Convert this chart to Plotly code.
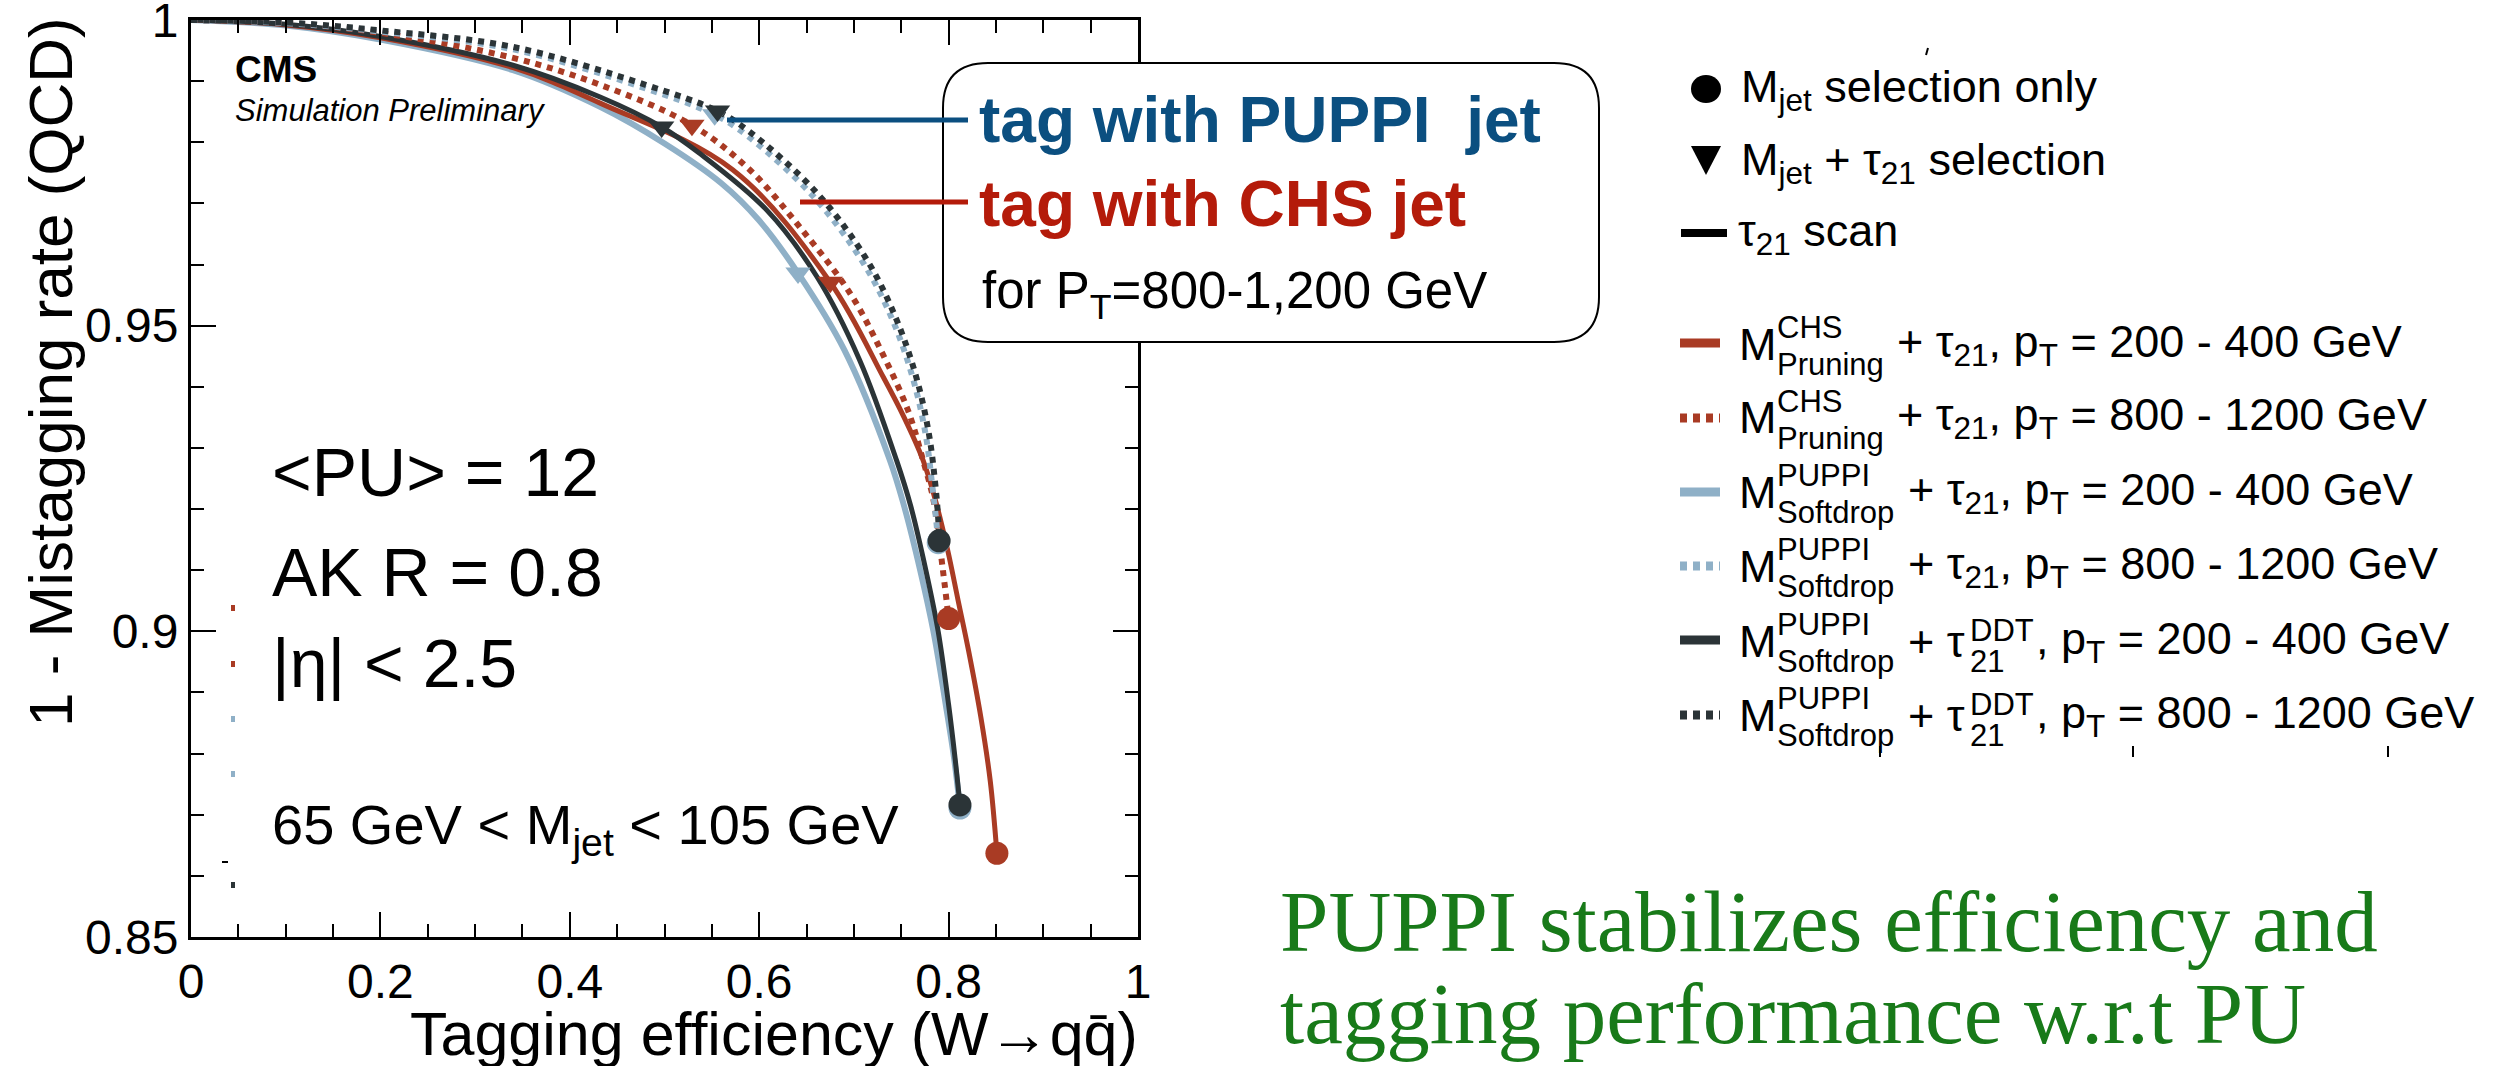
import plotly.graph_objects as go

# ---------------- data ----------------
chs_lo_x = [0.0, 0.1, 0.2, 0.34, 0.432, 0.572, 0.675, 0.731, 0.753, 0.773, 0.786, 0.799, 0.810, 0.821, 0.834, 0.844, 0.851]
chs_lo_y = [1.0, 0.9992, 0.9971, 0.9922, 0.9864, 0.9755, 0.9571, 0.9416, 0.935, 0.928, 0.9215, 0.9133, 0.9051, 0.8969, 0.886, 0.8755, 0.8637]

chs_hi_x = [0.0, 0.1, 0.2, 0.34, 0.432, 0.529, 0.590, 0.643, 0.696, 0.730, 0.757, 0.773, 0.784, 0.794, 0.800]
chs_hi_y = [1.0, 0.9995, 0.9979, 0.9938, 0.9894, 0.9828, 0.9755, 0.9661, 0.9553, 0.9455, 0.9362, 0.928, 0.9215, 0.910, 0.9021]

pup_lo_x = [0.0, 0.1, 0.2, 0.34, 0.432, 0.50, 0.56, 0.60, 0.641, 0.69, 0.738, 0.753, 0.770, 0.784, 0.797, 0.806, 0.812]
pup_lo_y = [1.0, 0.9991, 0.9968, 0.9918, 0.9858, 0.9798, 0.9733, 0.9672, 0.9586, 0.9460, 0.928, 0.9205, 0.910, 0.900, 0.888, 0.879, 0.8711]

pup_hi_x = [0.0, 0.1, 0.2, 0.34, 0.48, 0.553, 0.588, 0.658, 0.711, 0.742, 0.763, 0.776, 0.783, 0.787, 0.789]
pup_hi_y = [1.0, 0.9995, 0.9981, 0.9952, 0.9888, 0.9845, 0.9810, 0.9710, 0.9600, 0.9505, 0.941, 0.932, 0.9235, 0.918, 0.9145]

ddt_lo_x = [0.0, 0.1, 0.2, 0.34, 0.432, 0.497, 0.537, 0.608, 0.661, 0.706, 0.745, 0.760, 0.776, 0.789, 0.800, 0.807, 0.812]
ddt_lo_y = [1.0, 0.9993, 0.9973, 0.9926, 0.9874, 0.9825, 0.9782, 0.9689, 0.958, 0.9444, 0.928, 0.9205, 0.910, 0.900, 0.888, 0.879, 0.8716]

ddt_hi_x = [0.0, 0.1, 0.2, 0.34, 0.48, 0.556, 0.590, 0.661, 0.714, 0.745, 0.766, 0.779, 0.786, 0.789, 0.790]
ddt_hi_y = [1.0, 0.9996, 0.9983, 0.9956, 0.9894, 0.9851, 0.9817, 0.9717, 0.9607, 0.951, 0.9415, 0.9325, 0.924, 0.9185, 0.9148]

# M_jet + tau21 working points (triangles)
tri_x = [0.675, 0.529, 0.641, 0.553, 0.497, 0.556]
tri_y = [0.9571, 0.9828, 0.9586, 0.9845, 0.9825, 0.9851]
# M_jet selection only (circles)
circ_x = [0.851, 0.800, 0.812, 0.789, 0.812, 0.790]
circ_y = [0.8637, 0.9021, 0.8711, 0.9145, 0.8716, 0.9148]

x_tickvals = [0, 0.2, 0.4, 0.6, 0.8, 1]
x_ticktext = ["0", "0.2", "0.4", "0.6", "0.8", "1"]
y_tickvals = [0.85, 0.9, 0.95, 1.0]
y_ticktext = ["0.85", "0.9", "0.95", "1"]

# ---------------- styling ----------------
RED = "#a93b24"
LBL = "#8fb0c7"
DRK = "#2b3437"
SANS = "Liberation Sans, Arial, Helvetica, sans-serif"
SERIF = "Liberation Serif, Times New Roman, serif"
W, H = 2506, 1066
PL, PR, PT, PB = 191, 1138, 20, 937


def px(x):
    return x / W


def py(y):
    return 1 - y / H


DOT = "6px,6px"
series = [
    (pup_lo_x, pup_lo_y, LBL, "solid", 6),
    (chs_lo_x, chs_lo_y, RED, "solid", 5),
    (ddt_lo_x, ddt_lo_y, DRK, "solid", 5),
    (chs_hi_x, chs_hi_y, RED, DOT, 6),
    (pup_hi_x, pup_hi_y, LBL, DOT, 6),
    (ddt_hi_x, ddt_hi_y, DRK, DOT, 6),
]
mark_colors = [RED, RED, LBL, LBL, DRK, DRK]
mark_order = [2, 3, 0, 1, 4, 5]

fig = go.Figure()
for xs, ys, col, dash, wd in series:
    fig.add_trace(go.Scatter(x=xs, y=ys, mode="lines",
                             line=dict(color=col, width=wd, dash=dash, shape="spline", smoothing=1.0),
                             hoverinfo="skip"))
for i in mark_order:
    fig.add_trace(go.Scatter(x=[tri_x[i]], y=[tri_y[i]], mode="markers",
                             marker=dict(symbol="triangle-down", size=22, color=mark_colors[i]),
                             hoverinfo="skip"))
for i in mark_order:
    fig.add_trace(go.Scatter(x=[circ_x[i]], y=[circ_y[i]], mode="markers",
                             marker=dict(symbol="circle", size=23, color=mark_colors[i]),
                             hoverinfo="skip"))

axis_common = dict(showline=True, linecolor="black", linewidth=3, mirror="ticks",
                   ticks="inside", tickcolor="black", tickwidth=2, ticklen=25,
                   showgrid=False, zeroline=False, ticklabeloverflow="allow",
                   tickfont=dict(family=SANS, size=48, color="black"))

fig.update_xaxes(range=[0, 1], domain=[px(PL), px(PR)], tickmode="array",
                 tickvals=x_tickvals, ticktext=x_ticktext,
                 minor=dict(ticks="inside", ticklen=13, tickwidth=2, tickcolor="black",
                            tickmode="linear", tick0=0, dtick=0.05),
                 **axis_common)
fig.update_yaxes(range=[0.85, 1.0], domain=[py(PB), py(PT)], tickmode="array",
                 tickvals=y_tickvals, ticktext=y_ticktext,
                 minor=dict(ticks="inside", ticklen=13, tickwidth=2, tickcolor="black",
                            tickmode="linear", tick0=0.85, dtick=0.01),
                 **axis_common)

ann = []


def txt(text, x, y, size, color="black", family=SANS, xanchor="left", yanchor="middle", angle=0):
    ann.append(dict(text=text, x=px(x), y=py(y), xref="paper", yref="paper",
                    xanchor=xanchor, yanchor=yanchor, showarrow=False, textangle=angle,
                    font=dict(family=family, size=size, color=color)))


# axis titles
txt("1 - Mistagging rate (QCD)", 50, 372, 62, xanchor="center", angle=-90)
txt("Tagging efficiency (W→qq\u0304)", 1140, 1034, 61, xanchor="right")

# in-plot labels
txt("<b>CMS</b>", 233, 70, 37)
txt("<i>Simulation Preliminary</i>", 233, 110, 31)
txt("&lt;PU&gt; = 12", 270, 472, 68)
txt("AK R = 0.8", 270, 572, 68)
txt("|η| &lt; 2.5", 270, 663, 68)
txt("65 GeV &lt; M<sub>jet</sub> &lt; 105 GeV", 270, 828, 56)

# callout box texts
txt("<b>tag with PUPPI  jet</b>", 977, 120, 64, color="#0b4f80")
txt("<b>tag with CHS jet</b>", 977, 204, 64, color="#b41b0a")
txt("for P<sub>T</sub>=800-1,200 GeV", 980, 294, 51)

# right legend
LF, SF = 45, 31
txt("M<sub>jet</sub> selection only", 1739, 89, LF)
txt("M<sub>jet</sub> + τ<sub>21</sub> selection", 1739, 162, LF)
txt("τ<sub>21</sub> scan", 1736, 233, LF)

rows = [
    (344, "CHS", "Pruning", None, "200 - 400 GeV"),
    (418, "CHS", "Pruning", None, "800 - 1200 GeV"),
    (492, "PUPPI", "Softdrop", None, "200 - 400 GeV"),
    (566, "PUPPI", "Softdrop", None, "800 - 1200 GeV"),
    (641, "PUPPI", "Softdrop", "DDT", "200 - 400 GeV"),
    (715, "PUPPI", "Softdrop", "DDT", "800 - 1200 GeV"),
]
for yc, sup, sub, ddt, rng in rows:
    txt("M", 1737, yc, LF)
    txt(sup, 1775, yc - 17, SF)
    txt(sub, 1775, yc + 20, SF)
    x_rest = 1895 if sub == "Pruning" else 1906
    if ddt is None:
        txt("+ τ<sub>21</sub>, p<sub>T</sub> = " + rng, x_rest, yc, LF)
    else:
        txt("+ τ", x_rest, yc, LF)
        txt(ddt, 1968, yc - 11, SF)
        txt("21", 1968, yc + 20, SF)
        txt(", p<sub>T</sub> = " + rng, 2034, yc, LF)

# bottom green statement
txt("PUPPI stabilizes efficiency and", 1278, 921, 87, color="#187a19", family=SERIF)
txt("tagging performance w.r.t PU", 1278, 1013, 87, color="#187a19", family=SERIF)

shapes = []

# rounded callout box
x0, x1, y0, y1, r = 943, 1599, 63, 342, 45
path = (f"M {px(x0 + r)} {py(y0)} L {px(x1 - r)} {py(y0)} Q {px(x1)} {py(y0)} {px(x1)} {py(y0 + r)} "
        f"L {px(x1)} {py(y1 - r)} Q {px(x1)} {py(y1)} {px(x1 - r)} {py(y1)} "
        f"L {px(x0 + r)} {py(y1)} Q {px(x0)} {py(y1)} {px(x0)} {py(y1 - r)} "
        f"L {px(x0)} {py(y0 + r)} Q {px(x0)} {py(y0)} {px(x0 + r)} {py(y0)} Z")
shapes.append(dict(type="path", path=path, xref="paper", yref="paper", layer="above",
                   fillcolor="white", line=dict(color="black", width=2)))
# connectors
shapes.append(dict(type="line", xref="paper", yref="paper", layer="above",
                   x0=px(727), x1=px(968), y0=py(120), y1=py(120), line=dict(color="#0b4f80", width=5)))
shapes.append(dict(type="line", xref="paper", yref="paper", layer="above",
                   x0=px(800), x1=px(968), y0=py(202), y1=py(202), line=dict(color="#b41b0a", width=5)))

# legend glyphs
shapes.append(dict(type="circle", xref="paper", yref="paper", x0=px(1691), x1=px(1721),
                   y0=py(75), y1=py(103), fillcolor="black", line=dict(width=0)))
tri = f"M {px(1691)} {py(146)} L {px(1721)} {py(146)} L {px(1706)} {py(175)} Z"
shapes.append(dict(type="path", path=tri, xref="paper", yref="paper", fillcolor="black", line=dict(width=0)))
shapes.append(dict(type="line", xref="paper", yref="paper", x0=px(1681), x1=px(1727),
                   y0=py(233), y1=py(233), line=dict(color="black", width=8)))
leg_lines = [(343, RED, "solid"), (418, RED, "7px,6px"), (492, LBL, "solid"),
             (566, LBL, "7px,6px"), (640, DRK, "solid"), (715, DRK, "7px,6px")]
for yy, col, dash in leg_lines:
    shapes.append(dict(type="line", xref="paper", yref="paper", x0=px(1680), x1=px(1720),
                       y0=py(yy), y1=py(yy), line=dict(color=col, width=9, dash=dash)))

# small leftover marks seen in the reference image
specks = [(233, 608, RED), (233, 664, RED), (233, 719, LBL), (233, 774, LBL), (233, 885, DRK)]
for sx, sy, col in specks:
    shapes.append(dict(type="rect", xref="paper", yref="paper", x0=px(sx - 2), x1=px(sx + 2),
                       y0=py(sy - 3), y1=py(sy + 3), fillcolor=col, line=dict(width=0)))
shapes.append(dict(type="line", xref="paper", yref="paper", x0=px(222), x1=px(228),
                   y0=py(862), y1=py(862), line=dict(color="black", width=2)))
for tx in [1880, 2133, 2388]:
    shapes.append(dict(type="line", xref="paper", yref="paper", x0=px(tx), x1=px(tx),
                       y0=py(746), y1=py(757), line=dict(color="black", width=2)))
shapes.append(dict(type="line", xref="paper", yref="paper", x0=px(1928), x1=px(1926),
                   y0=py(48), y1=py(55), line=dict(color="black", width=2)))

fig.update_layout(width=W, height=H, margin=dict(l=0, r=0, t=0, b=0, autoexpand=False),
                  paper_bgcolor="white", plot_bgcolor="white", showlegend=False,
                  annotations=ann, shapes=shapes)

fig.write_html("out.html")
